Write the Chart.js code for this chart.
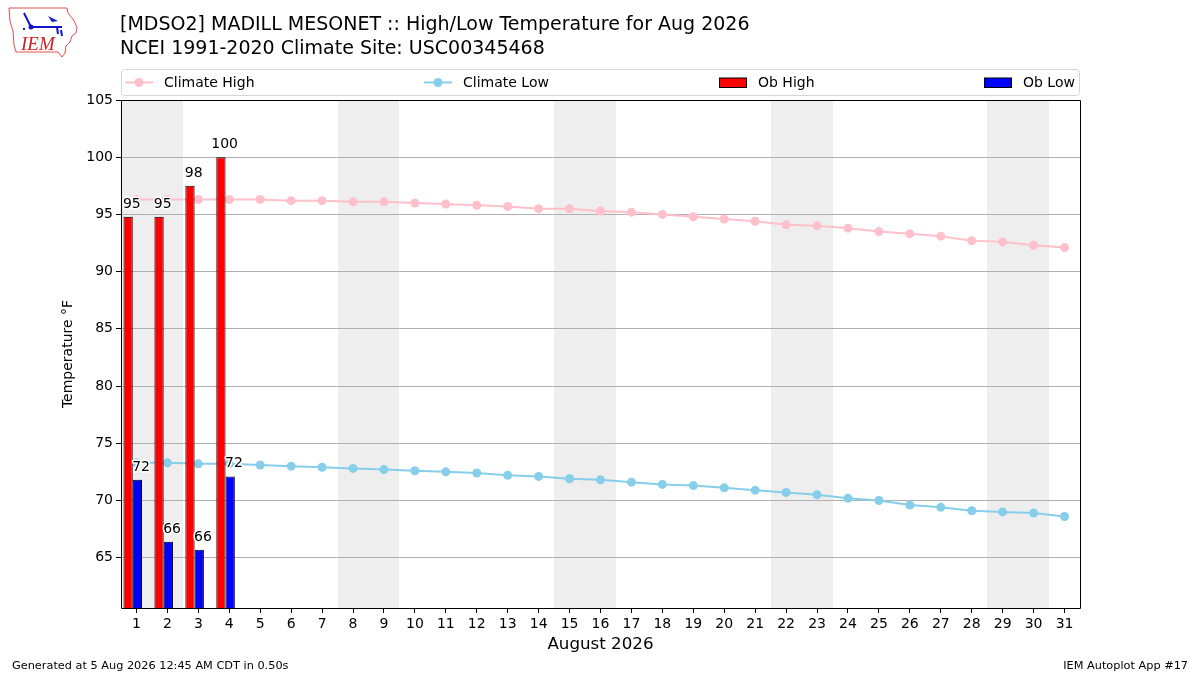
<!DOCTYPE html>
<html>
<head>
<meta charset="utf-8">
<title>MDSO2 High/Low Temperature Aug 2026</title>
<script src="https://cdn.jsdelivr.net/npm/chart.js@4/dist/chart.umd.min.js"></script>
<style>
  html, body { margin: 0; padding: 0; background: #fff; }
  canvas { display: block; }
</style>
</head>
<body>
<canvas id="tempChart" width="1200" height="675"></canvas>
<script>
// ===== DATA =====
const days = [1, 2, 3, 4, 5, 6, 7, 8, 9, 10, 11, 12, 13, 14, 15, 16,
              17, 18, 19, 20, 21, 22, 23, 24, 25, 26, 27, 28, 29, 30, 31];
const climateHigh = [96.3, 96.3, 96.3, 96.3, 96.3, 96.2, 96.2, 96.1, 96.1, 96.0,
                     95.9, 95.8, 95.7, 95.5, 95.5, 95.3, 95.2, 95.0, 94.8, 94.6,
                     94.4, 94.1, 94.0, 93.8, 93.5, 93.3, 93.1, 92.7, 92.6, 92.3, 92.1];
const climateLow = [73.3, 73.3, 73.2, 73.2, 73.1, 73.0, 72.9, 72.8, 72.7, 72.6,
                    72.5, 72.4, 72.2, 72.1, 71.9, 71.8, 71.6, 71.4, 71.3, 71.1,
                    70.9, 70.7, 70.5, 70.2, 70.0, 69.6, 69.4, 69.1, 69.0, 68.9, 68.6];
const obHigh = [94.8, 94.8, 97.5, 100.0];
const obLow = [71.8, 66.4, 65.7, 72.1];
const yTicks = [65, 70, 75, 80, 85, 90, 95, 100, 105];

const FONT = "'DejaVu Sans', sans-serif";
const BAR_SHIFT = 0.12;   // bars sit a little left of the day tick (in days)

// weekends of Aug 2026 (shaded)
const weekendDays = days.filter(d => {
    const wd = new Date(2026, 7, d).getDay();
    return wd === 0 || wd === 6;
});

// ===== PLUGINS =====
const weekendBands = {
    id: 'weekendBands',
    beforeDraw(chart) {
        const {ctx, chartArea} = chart;
        const x = chart.scales.x;
        ctx.save();
        ctx.fillStyle = '#eeeeee';
        weekendDays.forEach(d => {
            const x0 = Math.round(x.getPixelForValue(d - 0.5));
            const x1 = Math.round(x.getPixelForValue(d + 0.5));
            ctx.fillRect(x0, chartArea.top, x1 - x0, chartArea.bottom - chartArea.top);
        });
        ctx.restore();
    }
};

const barShift = {
    id: 'barShift',
    beforeDatasetDraw(chart, args) {
        if (args.meta.type !== 'bar') return;
        const x = chart.scales.x;
        chart.ctx.save();
        chart.ctx.translate(x.getPixelForValue(0) - x.getPixelForValue(BAR_SHIFT), 0);
    },
    afterDatasetDraw(chart, args) {
        if (args.meta.type !== 'bar') return;
        chart.ctx.restore();
    }
};

const barLabels = {
    id: 'barLabels',
    afterDatasetsDraw(chart) {
        const {ctx, chartArea} = chart;
        ctx.save();
        ctx.font = '14px ' + FONT;
        ctx.textAlign = 'center';
        ctx.textBaseline = 'alphabetic';
        ctx.lineJoin = 'round';
        [2, 3].forEach(i => {
            const meta = chart.getDatasetMeta(i);
            const vals = chart.data.datasets[i].data;
            meta.data.forEach((bar, j) => {
                const txt = Math.round(vals[j].y).toString();
                const tx = bar.x, ty = bar.y - 9;
                ctx.lineWidth = 3;
                ctx.strokeStyle = '#ffffff';
                ctx.strokeText(txt, tx, ty);
                ctx.fillStyle = '#000000';
                ctx.fillText(txt, tx, ty);
            });
        });
        // frame around plot area
        ctx.strokeStyle = '#000';
        ctx.lineWidth = 1;
        ctx.strokeRect(Math.round(chartArea.left) + 0.5, Math.round(chartArea.top) + 0.5,
                       Math.round(chartArea.right - chartArea.left),
                       Math.round(chartArea.bottom - chartArea.top));
        ctx.restore();
    }
};

function drawLogo(ctx) {
    ctx.save();
    // state outline
    ctx.strokeStyle = '#e05050';
    ctx.lineWidth = 1;
    ctx.beginPath();
    const pts = [[9,8],[67,8],[68,13],[73,19],[77,27],[76,33],[72,36],[70,42],[66,46],
                 [65,53],[62,57],[58,52],[16,52],[14,45],[13,31],[10,21],[9,8]];
    pts.forEach((p, i) => i ? ctx.lineTo(p[0], p[1]) : ctx.moveTo(p[0], p[1]));
    ctx.stroke();
    // blue glyph
    ctx.strokeStyle = '#1515d0';
    ctx.fillStyle = '#1515d0';
    ctx.lineWidth = 2;
    ctx.beginPath();
    ctx.moveTo(31, 27); ctx.lineTo(62, 27);
    ctx.moveTo(24, 13); ctx.lineTo(31, 27);
    ctx.moveTo(57, 27); ctx.lineTo(58, 34);
    ctx.moveTo(61, 30); ctx.lineTo(62, 36);
    ctx.stroke();
    ctx.beginPath(); ctx.arc(31, 27, 2.5, 0, Math.PI * 2); ctx.fill();
    ctx.beginPath();
    ctx.moveTo(48, 16); ctx.lineTo(58, 21); ctx.lineTo(52, 22); ctx.closePath(); ctx.fill();
    ctx.fillRect(23, 28, 2, 2);
    // IEM text
    ctx.fillStyle = '#d02020';
    ctx.font = 'italic 19px "Liberation Serif", serif';
    ctx.fillText('IEM', 21, 50);
    ctx.restore();
}

const decorations = {
    id: 'decorations',
    afterDraw(chart) {
        const {ctx, chartArea} = chart;
        ctx.save();
        drawLogo(ctx);

        // titles
        ctx.fillStyle = '#000';
        ctx.textAlign = 'left';
        ctx.textBaseline = 'alphabetic';
        ctx.font = '19px ' + FONT;
        ctx.fillText('[MDSO2] MADILL MESONET :: High/Low Temperature for Aug 2026', 120, 30);
        ctx.fillText('NCEI 1991-2020 Climate Site: USC00345468', 120, 54);

        // legend box
        const lx = chartArea.left, lw = chartArea.right - chartArea.left;
        const ly = 69.5, lh = 26;
        ctx.strokeStyle = '#d4d4d4';
        ctx.lineWidth = 1;
        ctx.fillStyle = 'rgba(255,255,255,0.8)';
        ctx.beginPath();
        ctx.roundRect(lx + 0.5, ly, lw - 1, lh, 3);
        ctx.fill();
        ctx.stroke();

        const cy = ly + lh / 2;
        const items = [
            {ds: 0, x: 125, kind: 'line'},
            {ds: 1, x: 424, kind: 'line'},
            {ds: 2, x: 719, kind: 'box'},
            {ds: 3, x: 984, kind: 'box'}
        ];
        ctx.font = '14px ' + FONT;
        ctx.textBaseline = 'middle';
        items.forEach(it => {
            const ds = chart.data.datasets[it.ds];
            if (it.kind === 'line') {
                ctx.strokeStyle = ds.borderColor;
                ctx.lineWidth = 2;
                ctx.beginPath();
                ctx.moveTo(it.x, cy); ctx.lineTo(it.x + 28, cy);
                ctx.stroke();
                ctx.fillStyle = ds.backgroundColor;
                ctx.beginPath();
                ctx.arc(it.x + 14, cy, 4.5, 0, Math.PI * 2);
                ctx.fill();
            } else {
                ctx.fillStyle = ds.backgroundColor;
                ctx.fillRect(it.x, cy - 4.5, 28, 9.5);
                ctx.strokeStyle = '#000';
                ctx.lineWidth = 1;
                ctx.strokeRect(it.x + 0.5, cy - 4.5, 27, 9.5);
            }
            ctx.fillStyle = '#000';
            ctx.fillText(ds.label, it.x + 39, cy + 1);
        });

        // footer
        ctx.font = '11.3px ' + FONT;
        ctx.textBaseline = 'alphabetic';
        ctx.textAlign = 'left';
        ctx.fillText('Generated at 5 Aug 2026 12:45 AM CDT in 0.50s', 12, 669);
        ctx.textAlign = 'right';
        ctx.fillText('IEM Autoplot App #17', 1188, 669);
        ctx.restore();
    }
};

// ===== CHART =====
const ctx = document.getElementById('tempChart').getContext('2d');

new Chart(ctx, {
    data: {
        datasets: [
            {
                type: 'line',
                label: 'Climate High',
                data: days.map((d, i) => ({x: d, y: climateHigh[i]})),
                borderColor: '#ffc0cb',
                backgroundColor: '#ffc0cb',
                borderWidth: 2,
                pointRadius: 4.5,
                pointBorderWidth: 0,
                tension: 0,
                order: 2
            },
            {
                type: 'line',
                label: 'Climate Low',
                data: days.map((d, i) => ({x: d, y: climateLow[i]})),
                borderColor: '#87ceeb',
                backgroundColor: '#87ceeb',
                borderWidth: 2,
                pointRadius: 4.5,
                pointBorderWidth: 0,
                tension: 0,
                order: 2
            },
            {
                type: 'bar',
                label: 'Ob High',
                data: obHigh.map((v, i) => ({x: days[i], y: v})),
                backgroundColor: '#ff0000',
                borderColor: '#000000',
                borderWidth: 1,
                categoryPercentage: 0.6,
                barPercentage: 1.0,
                order: 1
            },
            {
                type: 'bar',
                label: 'Ob Low',
                data: obLow.map((v, i) => ({x: days[i], y: v})),
                backgroundColor: '#0000ff',
                borderColor: '#000000',
                borderWidth: 1,
                categoryPercentage: 0.6,
                barPercentage: 1.0,
                order: 1
            }
        ]
    },
    options: {
        responsive: false,
        animation: false,
        devicePixelRatio: 1,
        layout: {
            padding: {left: 58, right: 120, top: 100, bottom: 17}
        },
        plugins: {
            legend: {display: false},
            title: {display: false},
            tooltip: {enabled: false}
        },
        scales: {
            x: {
                type: 'linear',
                bounds: 'data',
                offset: false,
                min: 0.5,
                max: 31.5,
                afterBuildTicks: s => { s.ticks = days.map(v => ({value: v})); },
                afterFit: s => { s.height = 50; },
                grid: {offset: false, drawOnChartArea: false, tickColor: '#000', tickLength: 5},
                border: {display: false},
                ticks: {color: '#000', font: {family: FONT, size: 14}, padding: 3,
                        stepSize: 1, maxRotation: 0, autoSkip: false},
                title: {display: true, text: 'August 2026', color: '#000',
                        font: {family: FONT, size: 16.7}, padding: {top: 2, bottom: 3}}
            },
            y: {
                bounds: 'data',
                min: 60.6,
                max: 105,
                afterBuildTicks: s => { s.ticks = yTicks.map(v => ({value: v})); },
                afterFit: s => { s.width = 63; },
                grid: {color: '#b0b0b0', lineWidth: 1, tickColor: '#000', tickLength: 5},
                border: {display: false},
                ticks: {color: '#000', font: {family: FONT, size: 14}, padding: 3},
                title: {display: true, text: 'Temperature °F', color: '#000',
                        font: {family: FONT, size: 14}, padding: {top: 2, bottom: 4}}
            }
        }
    },
    plugins: [weekendBands, barShift, barLabels, decorations]
});
</script>
</body>
</html>
